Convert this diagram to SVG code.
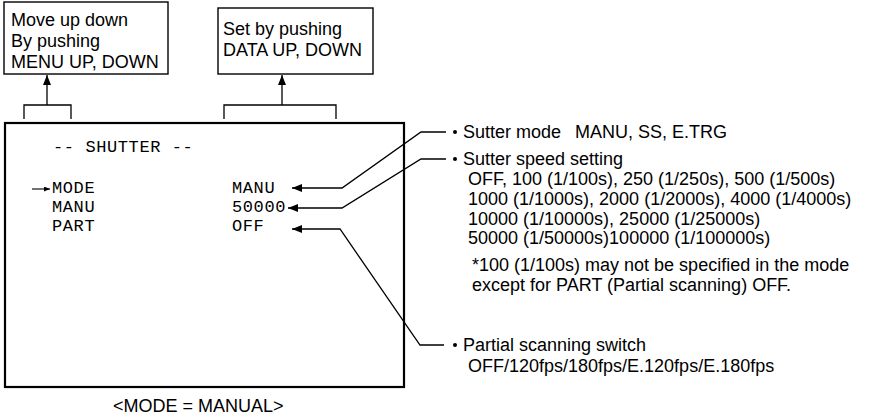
<svg xmlns="http://www.w3.org/2000/svg" width="872" height="418" viewBox="0 0 872 418">
<style>
.sans{font-family:"Liberation Sans",Arial,Helvetica,sans-serif;font-size:18px;fill:#000}
.mono{font-family:"Liberation Mono","Courier New",monospace;font-size:17px;letter-spacing:0.6px;fill:#000}
.box{fill:#fff;stroke:#000;stroke-width:1.4}
.main{fill:#fff;stroke:#000;stroke-width:2.2}
.ln{fill:none;stroke:#000;stroke-width:1.3}
.thin{fill:none;stroke:#000;stroke-width:1.1}
</style>
<defs>
<marker id="ah" viewBox="0 0 10 8" refX="10" refY="4" markerWidth="10" markerHeight="8" markerUnits="userSpaceOnUse" orient="auto">
<path d="M0,0 L10,4 L0,8 Z" fill="#000"/>
</marker>
<marker id="ahs" viewBox="0 0 6 5" refX="6" refY="2.5" markerWidth="6" markerHeight="5" markerUnits="userSpaceOnUse" orient="auto">
<path d="M0,0 L6,2.5 L0,5 Z" fill="#000"/>
</marker>
</defs>

<g id="note-menu">
<rect class="box" x="4" y="2" width="164" height="72"/>
<text class="sans" x="11" y="26">Move up down</text>
<text class="sans" x="11" y="47">By pushing</text>
<text class="sans" x="11" y="68">MENU UP, DOWN</text>
</g>

<g id="note-data">
<rect class="box" x="218" y="8" width="155" height="66"/>
<text class="sans" x="223" y="35">Set by pushing</text>
<text class="sans" x="223" y="56">DATA UP, DOWN</text>
</g>

<g id="screen">
<rect class="main" x="5" y="123" width="399" height="264"/>
<text class="mono" x="53" y="152">-- SHUTTER --</text>
<line class="thin" x1="32" y1="189" x2="50" y2="189" marker-end="url(#ahs)"/>
<text class="mono" x="52" y="193">MODE</text>
<text class="mono" x="52" y="212">MANU</text>
<text class="mono" x="52" y="231">PART</text>
<text class="mono" x="232" y="193">MANU</text>
<text class="mono" x="232" y="212">50000</text>
<text class="mono" x="232" y="231">OFF</text>
</g>

<g id="desc-mode">
<circle cx="455" cy="132" r="2"/>
<text class="sans" x="463" y="138">Sutter mode</text>
<text class="sans" x="575" y="138">MANU, SS, E.TRG</text>
</g>

<g id="desc-speed">
<circle cx="455" cy="159" r="2"/>
<text class="sans" x="463" y="165">Sutter speed setting</text>
<text class="sans" x="468" y="185">OFF, 100 (1/100s), 250 (1/250s), 500 (1/500s)</text>
<text class="sans" x="468" y="205">1000 (1/1000s), 2000 (1/2000s), 4000 (1/4000s)</text>
<text class="sans" x="468" y="225">10000 (1/10000s), 25000 (1/25000s)</text>
<text class="sans" x="468" y="244">50000 (1/50000s)100000 (1/100000s)</text>
<text class="sans" x="472" y="271">*100 (1/100s) may not be specified in the mode</text>
<text class="sans" x="472" y="291">except for PART (Partial scanning) OFF.</text>
</g>

<g id="desc-part">
<circle cx="455" cy="345" r="2"/>
<text class="sans" x="463" y="351">Partial scanning switch</text>
<text class="sans" x="468" y="372">OFF/120fps/180fps/E.120fps/E.180fps</text>
</g>

<g id="caption">
<text class="sans" x="113" y="412">&lt;MODE = MANUAL&gt;</text>
</g>

<g id="connectors">
<path class="ln" d="M24,119 V105 H71 V119"/>
<line class="ln" x1="47" y1="105" x2="47" y2="75" marker-end="url(#ah)"/>
<path class="ln" d="M224,119 V105 H336 V119"/>
<line class="ln" x1="282" y1="105" x2="282" y2="75" marker-end="url(#ah)"/>
<path class="ln" d="M446,132 H421 L342,188 H292" marker-end="url(#ah)"/>
<path class="ln" d="M446,159 H421 L342,208 H288" marker-end="url(#ah)"/>
<path class="ln" d="M444,345 H420 L340,229 H292" marker-end="url(#ah)"/>
</g>
</svg>
